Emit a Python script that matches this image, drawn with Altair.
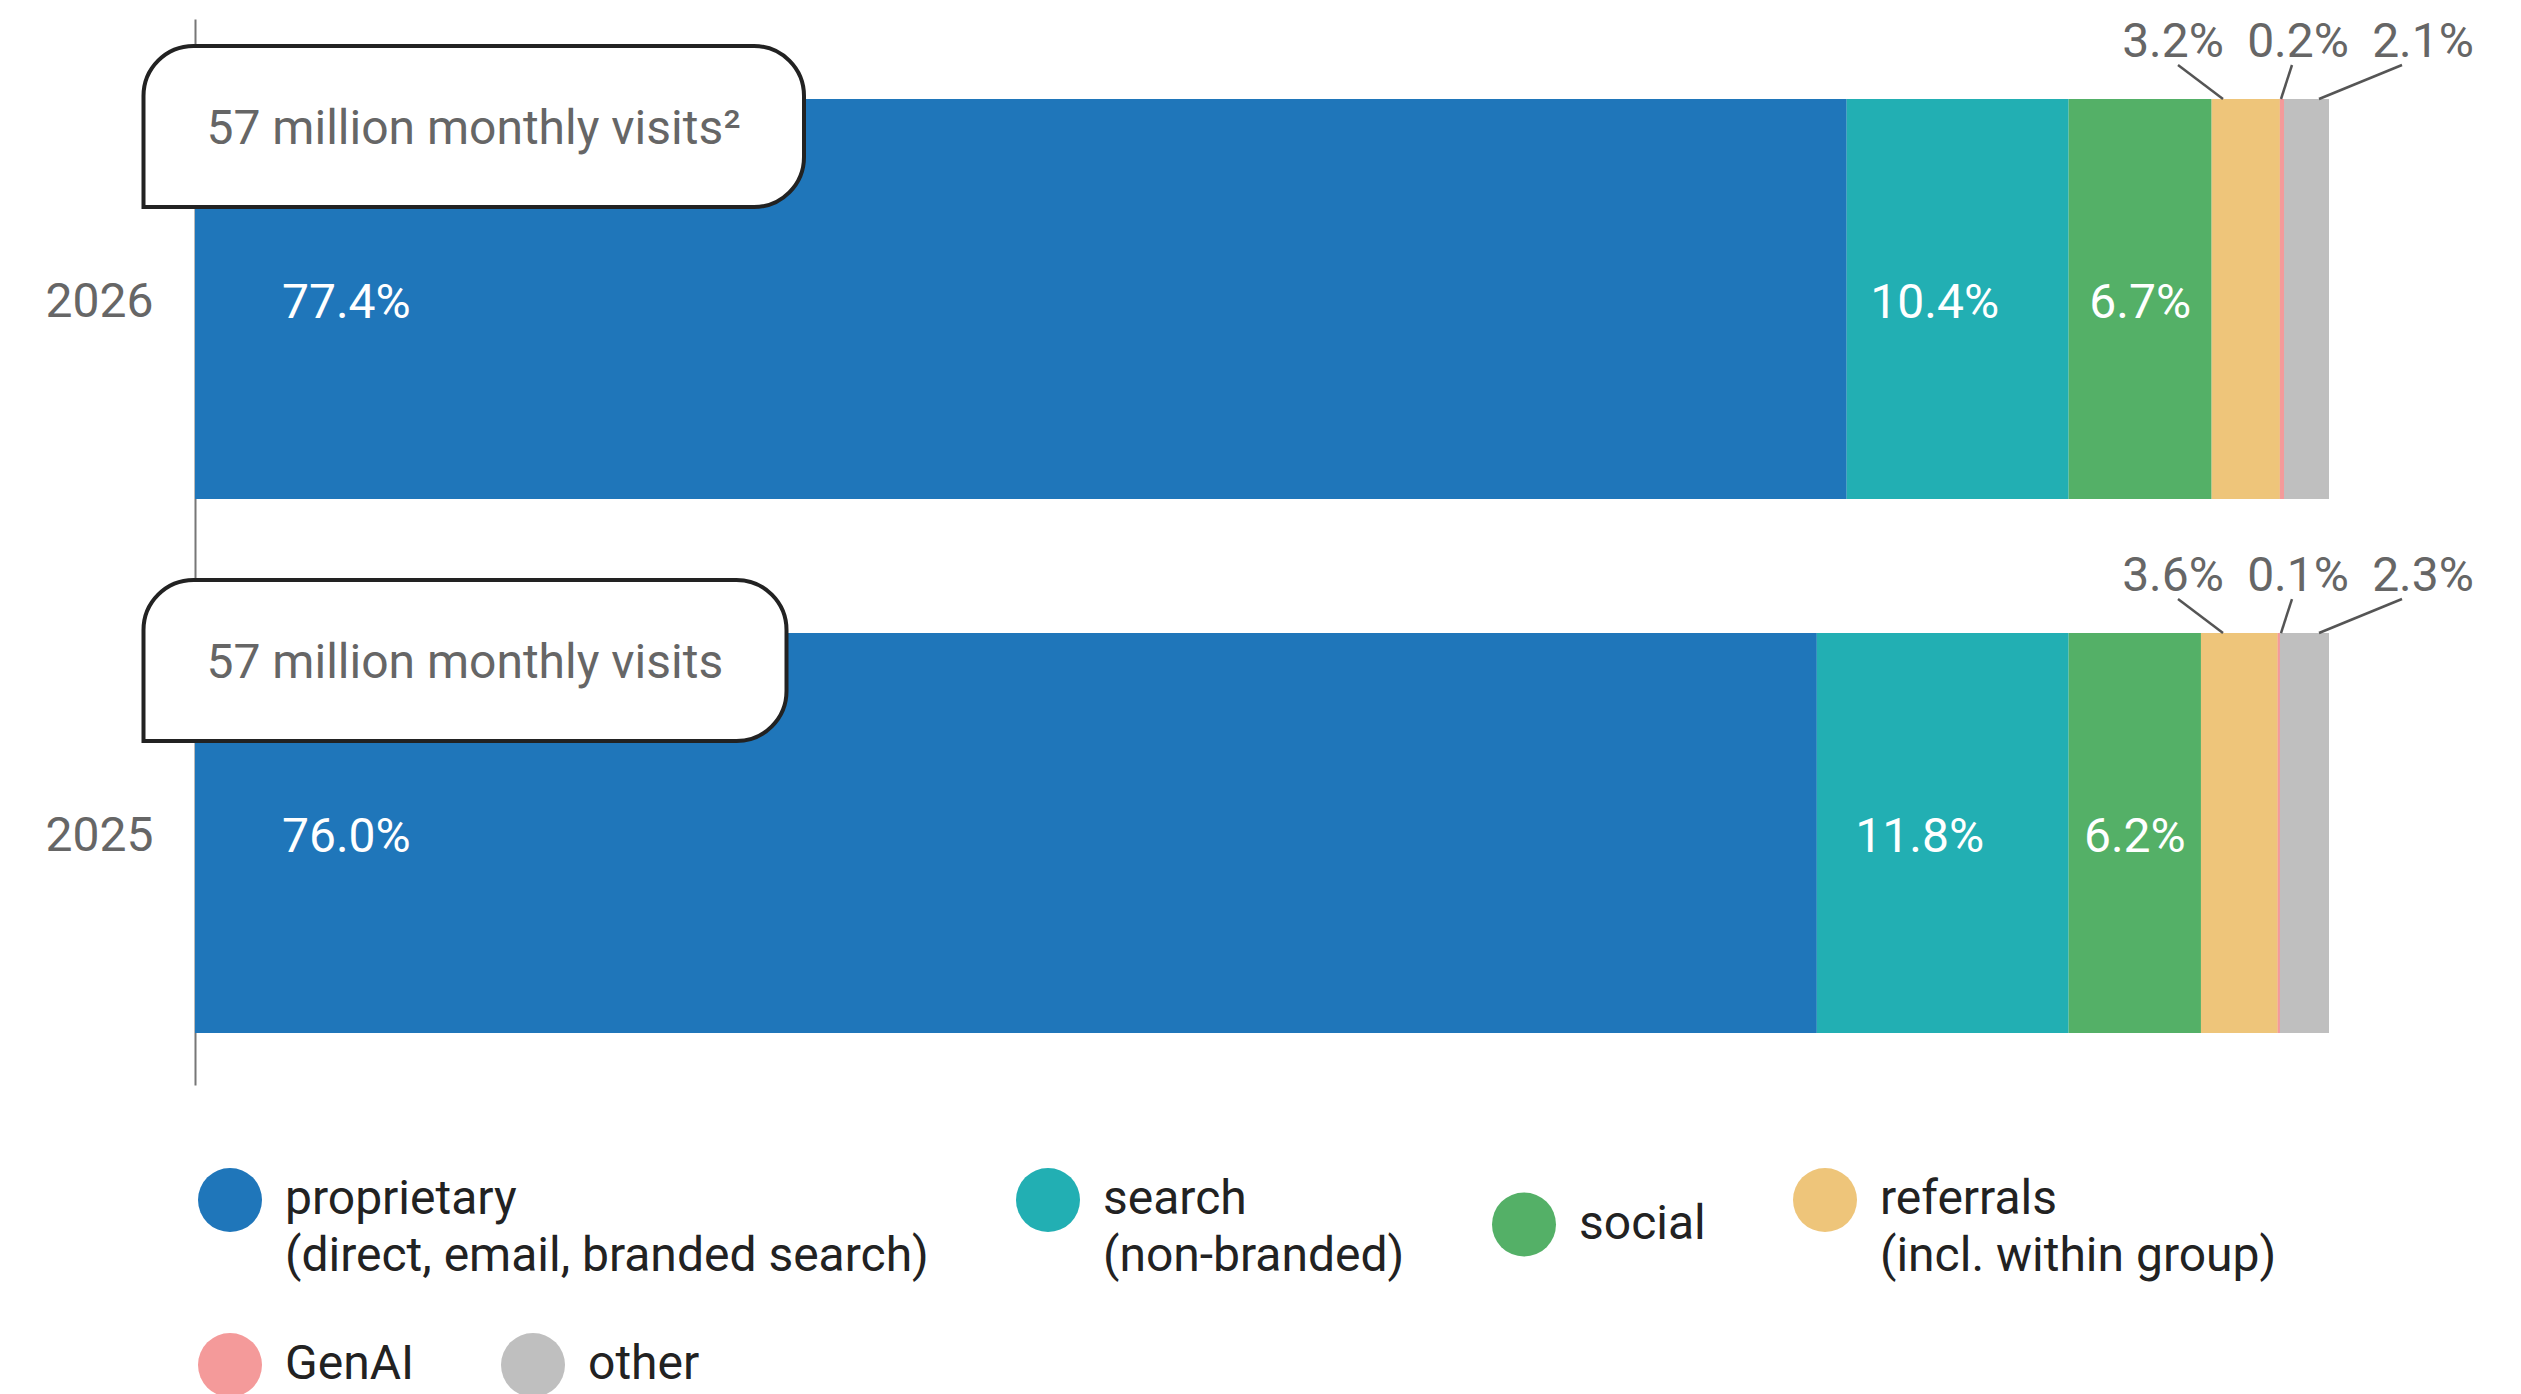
import altair as alt
import pandas as pd

# ---------------- data ----------------
years = ["2026", "2025"]
categories = ["proprietary", "search", "social", "referrals", "GenAI", "other"]
category_notes = ["(direct, email, branded search)", "(non-branded)", "", "(incl. within group)", "", ""]
share_2026 = [77.4, 10.4, 6.7, 3.2, 0.2, 2.1]
share_2025 = [76.0, 11.8, 6.2, 3.6, 0.1, 2.3]
visit_notes = ["57 million monthly visits\u00b2", "57 million monthly visits"]

# ---------------- style / layout ----------------
colors = ["#1F76BA", "#22AFB3", "#54B067", "#EEC57A", "#F49A9A", "#BFBFBF"]
PLOT_W = 2134
PLOT_H = 1066
FONT = "Roboto"
FS = 48


def px(p):
    """pixel offset from the plot's left edge -> x-scale units"""
    return p / PLOT_W * 100


outside_cats = ["referrals", "GenAI", "other"]
outside_label_px = [1978, 2103, 2228]
leader_top_px = [1983, 2097, 2207]
leader_bottom_px = [2028, 2086, 2124]
box_left_px = -51.5
box_right_px = [609, 591.5]
legend_row1 = categories[:4]
legend_row2 = categories[4:]

# ---------------- tables ----------------
rows = []
for yr, vals in zip(years, [share_2026, share_2025]):
    for i, (c, v) in enumerate(zip(categories, vals)):
        rows.append({"year": yr, "category": c, "value": v, "order": i, "label": f"{v:.1f}%"})
df = pd.DataFrame(rows)

out_rows = []
for yr, vals in zip(years, [share_2026, share_2025]):
    for j, c in enumerate(outside_cats):
        v = vals[categories.index(c)]
        out_rows.append({
            "year": yr, "category": c, "label": f"{v:.1f}%",
            "lx": px(outside_label_px[j]),
            "ltop": px(leader_top_px[j]),
            "lbot": px(leader_bottom_px[j]),
        })
df_out = pd.DataFrame(out_rows)

df_box = pd.DataFrame({
    "year": years,
    "note": visit_notes,
    "box_left": [px(box_left_px)] * 2,
    "box_right": [px(p) for p in box_right_px],
})

# ---------------- scales ----------------
yscale = alt.Scale(type="band", domain=years, paddingInner=0.251, paddingOuter=0.1236, align=0.606)
yaxis = alt.Axis(title=None, domain=True, domainColor="#777777", domainWidth=2, ticks=False,
                 grid=False, labelFontSize=FS, labelColor="#666666", labelPadding=42,
                 labelFont=FONT, labelOffset=4)
xscale = alt.Scale(domain=[0, 100], nice=False, zero=False)


def Y(bp=None):
    if bp is None:
        return alt.Y("year:N", scale=yscale, axis=yaxis)
    return alt.Y("year:N", scale=yscale, axis=yaxis, bandPosition=bp)


def X(field):
    return alt.X(field, type="quantitative", scale=xscale, axis=None)


expr_parts = []
for c, n in zip(categories, category_notes):
    if n:
        expr_parts.append(f"datum.label == '{c}' ? ['{c}', '{n}']")
label_expr = " : ".join(expr_parts) + " : datum.label"

legend_common = dict(
    title=None, orient="none", legendX=3, direction="horizontal",
    symbolType="circle", symbolSize=4096, symbolStrokeWidth=0, symbolOpacity=1,
    labelFontSize=FS, labelColor="#222222", labelFont=FONT, labelOffset=23,
    labelLimit=0, padding=0,
)
legend1 = alt.Legend(legendY=1149, values=legend_row1, columnPadding=87,
                     labelExpr=label_expr, **legend_common)
legend2 = alt.Legend(legendY=1314, values=legend_row2, columnPadding=86, **legend_common)

base = alt.Chart(df).transform_stack(
    stack="value", groupby=["year"], as_=["start", "end"],
    sort=[alt.SortField("order", order="ascending")]
).transform_calculate(mid="(datum.start + datum.end) / 2")

bars = base.mark_bar().encode(
    y=Y(),
    x=X("start"),
    x2="end:Q",
    color=alt.Color("category:N", scale=alt.Scale(domain=categories, range=colors), legend=legend1),
)
bars_small = base.transform_filter(
    alt.FieldOneOfPredicate(field="category", oneOf=legend_row2)
).mark_bar().encode(
    y=Y(),
    x=X("start"),
    x2="end:Q",
    fill=alt.Fill("category:N",
                  scale=alt.Scale(domain=legend_row2,
                                  range=[colors[categories.index(c)] for c in legend_row2]),
                  legend=legend2),
)

txt = dict(fontSize=FS, font=FONT, color="white", baseline="alphabetic", dy=19)
lab_prop = base.transform_filter(alt.datum.category == "proprietary").mark_text(
    align="left", dx=87, **txt).encode(y=Y(), x=X("start"), text="label:N")
lab_search = base.transform_filter(alt.datum.category == "search").mark_text(
    align="center", dx=-23, **txt).encode(y=Y(), x=X("mid"), text="label:N")
lab_social = base.transform_filter(alt.datum.category == "social").mark_text(
    align="center", dx=0, **txt).encode(y=Y(), x=X("mid"), text="label:N")

out_base = alt.Chart(df_out)
out_labels = out_base.mark_text(align="center", baseline="alphabetic", dy=-42, fontSize=FS,
                                font=FONT, color="#666666").encode(
    y=Y(0), x=X("lx"), text="label:N")
leaders = out_base.mark_rule(yOffset=-34, strokeWidth=2.5, color="#555555").encode(
    y=Y(0), y2=alt.Y2("year:N", bandPosition=0), x=X("ltop"), x2="lbot:Q")

box_base = alt.Chart(df_box)
boxes = box_base.mark_rect(
    yOffset=-53, y2Offset=108, cornerRadiusTopLeft=50, cornerRadiusTopRight=50,
    cornerRadiusBottomRight=50, cornerRadiusBottomLeft=0, fill="white",
    stroke="#222222", strokeWidth=4).encode(
    y=Y(0), y2=alt.Y2("year:N", bandPosition=0), x=X("box_left"), x2="box_right:Q")
box_text = box_base.mark_text(align="left", baseline="alphabetic", dx=63, dy=45, fontSize=FS,
                              font=FONT, color="#666666").encode(
    y=Y(0), x=X("box_left"), text="note:N")

chart = alt.layer(
    bars, bars_small, lab_prop, lab_search, lab_social, leaders, out_labels, boxes, box_text
).properties(
    width=PLOT_W, height=PLOT_H,
    padding={"left": 195, "top": 19, "right": 192, "bottom": 309},
    autosize=alt.AutoSizeParams(type="none"),
).configure(
    font=FONT,
    style={"guide-label": {"lineHeight": 57}},
).configure_view(stroke=None)

chart.save("out.html", embed_options={"renderer": "svg", "actions": False})
